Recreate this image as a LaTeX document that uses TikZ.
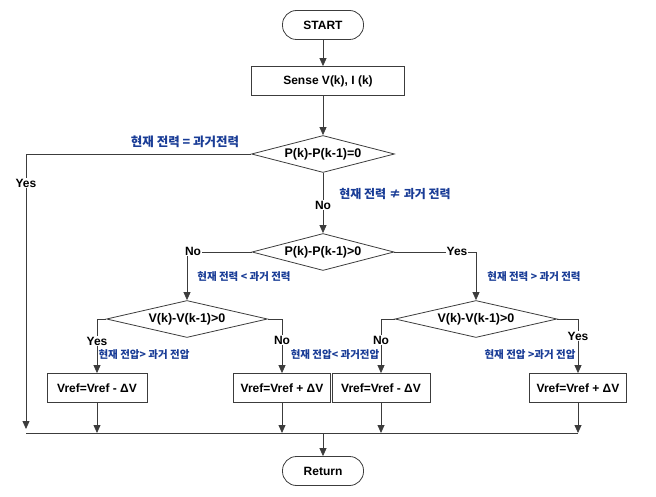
\documentclass[tikz,border=0pt]{standalone}
\usepackage{fontspec}
\setmainfont{Liberation Sans}
\newfontfamily\kor{Noto Sans CJK KR}
\usetikzlibrary{shapes.geometric,arrows.meta}
\definecolor{pen}{RGB}{60,60,60}
\definecolor{memo}{RGB}{25,60,150}

\begin{document}
\begin{tikzpicture}[x=1pt,y=-1pt,line width=0.8pt,
  term/.style={draw=pen,rounded corners=14pt,minimum width=81pt,minimum height=29pt,inner sep=0pt,font=\fontsize{12}{14}\selectfont\bfseries},
  proc/.style={draw=pen,rectangle,minimum height=29pt,inner sep=0pt,font=\fontsize{12}{14}\selectfont\bfseries},
  cond/.style={draw=pen,diamond,aspect=4,minimum height=37pt,inner sep=0pt,font=\fontsize{12.5}{14}\selectfont\bfseries},
  lbl/.style={fill=white,inner sep=1pt,font=\fontsize{12}{14}\selectfont\bfseries},
  memo/.style={text=memo,inner sep=0pt,font=\kor\bfseries\fontsize{10.5}{12}\selectfont},
  arr/.style={draw=pen,-{Triangle[length=8pt,width=7pt]}}]
\useasboundingbox (0,0) rectangle (656,497);

\node[term] (start) at (323,25) {START};
\node[proc,minimum width=153pt] (sense) at (328,81) {Sense V(k), I (k)};
\node[cond,minimum width=143pt] (c1) at (323,154) {P(k)-P(k-1)=0};
\node[cond,minimum width=142pt] (c2) at (323,252) {P(k)-P(k-1)>0};
\node[cond,minimum width=161pt] (c3) at (187,319) {V(k)-V(k-1)>0};
\node[cond,minimum width=162pt] (c4) at (476,319) {V(k)-V(k-1)>0};

\node[proc,minimum width=100pt] (b1) at (97,388) {Vref=Vref - ΔV};
\node[proc,minimum width=97pt] (b2) at (282,388) {Vref=Vref + ΔV};
\node[proc,minimum width=98pt] (b3) at (381,388) {Vref=Vref - ΔV};
\node[proc,minimum width=97pt] (b4) at (578,388) {Vref=Vref + ΔV};
\node[term] (ret) at (323,471) {Return};

\coordinate (busL) at (26,433);
\coordinate (busR) at (578,433);
\coordinate (busM) at (323,433);
\coordinate (yesEnd) at (26,429);

% main line
\draw[arr] (start) -- (start |- sense.north);
\draw[arr] (c1.north |- sense.south) -- (c1.north);
\draw[arr] (c1) -- (c2);
\draw[arr] (c1.west) -| (yesEnd);

\draw[arr] (c2.west) -| (c3.north);
\draw[arr] (c2.east) -| (c4.north);
\draw[arr] (c3.west) -| (b1.north);
\draw[arr] (c3.east) -| (b2.north);
\draw[arr] (c4.west) -| (b3.north);
\draw[arr] (c4.east) -| (b4.north);

% to return
\draw[draw=pen] (busL) -- (busR);
\foreach \b in {b1,b2,b3,b4}
  \draw[arr] (\b) -- (\b |- busL);
\draw[arr] (busM) -- (ret);

\node[lbl] (yes1) at (26,183) {Yes};
\node[lbl] (no1) at (323,205) {No};
\node[lbl] (no2) at (193,251) {No};
\node[lbl] (yes2) at (457,251) {Yes};
\node[lbl] (yes3) at (97,341) {Yes};
\node[lbl] (no3) at (282,340) {No};
\node[lbl] (no4) at (381,340) {No};
\node[lbl] (yes4) at (578,336) {Yes};

\node[memo,font=\kor\bfseries\fontsize{12.5}{14}\selectfont] (m1) at (185,142) {현재 전력 = 과거전력};
\node[memo,font=\kor\bfseries\fontsize{12}{14}\selectfont] (m2) at (395,194) {현재 전력 ≠ 과거 전력};
\node[memo] (m3) at (244,277) {현재 전력 < 과거 전력};
\node[memo] (m4) at (534,277) {현재 전력 > 과거 전력};
\node[memo] (m5) at (144,355) {현재 전압> 과거 전압};
\node[memo] (m6) at (335,355) {현재 전압< 과거전압};
\node[memo] (m7) at (530,355) {현재 전압 >과거 전압};
\end{tikzpicture}
\end{document}
